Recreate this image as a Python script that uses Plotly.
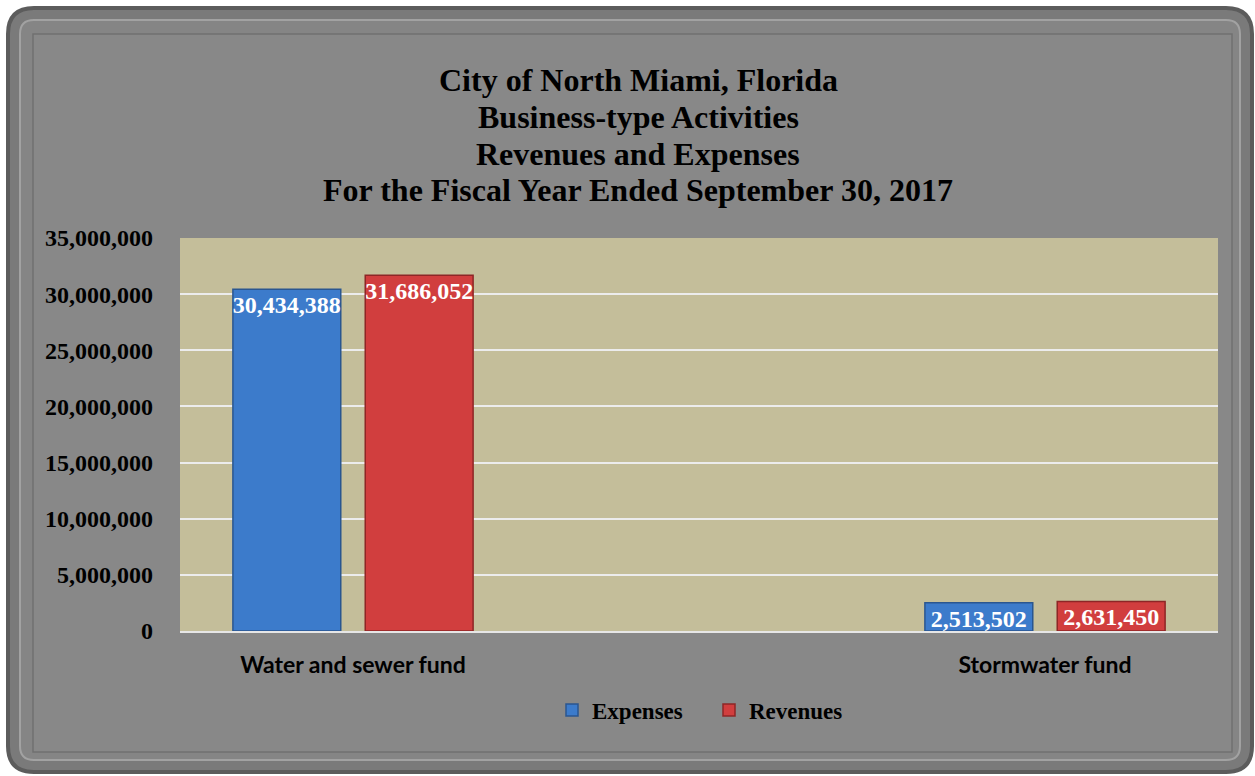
import plotly.graph_objects as go

categories = ["Water and sewer fund", " ", "Stormwater fund"]
expenses = [30434388, None, 2513502]
revenues = [31686052, None, 2631450]
expense_labels = ["30,434,388", "", "2,513,502"]
revenue_labels = ["31,686,052", "", "2,631,450"]
y_ticks = [0, 5000000, 10000000, 15000000, 20000000, 25000000, 30000000, 35000000]
y_tick_text = ["0", "5,000,000", "10,000,000", "15,000,000", "20,000,000",
               "25,000,000", "30,000,000", "35,000,000"]
title_lines = ["City of North Miami, Florida", "Business-type Activities",
               "Revenues and Expenses", "For the Fiscal Year Ended September 30, 2017"]

W, H = 1255, 776
ML, MR, MT, MB = 180, 37, 238, 145
PW, PH = W - ML - MR, H - MT - MB


def px(X):
    return (X - ML) / PW


def py(Y):
    return (H - MB - Y) / PH


def rounded_rect(x0, y0, x1, y1, r):
    def P(X, Y):
        return f"{px(X):.5f},{py(Y):.5f}"
    return (f"M {P(x0 + r, y0)} L {P(x1 - r, y0)} Q {P(x1, y0)} {P(x1, y0 + r)} "
            f"L {P(x1, y1 - r)} Q {P(x1, y1)} {P(x1 - r, y1)} "
            f"L {P(x0 + r, y1)} Q {P(x0, y1)} {P(x0, y1 - r)} "
            f"L {P(x0, y0 + r)} Q {P(x0, y0)} {P(x0 + r, y0)} Z")


serif = "Liberation Serif, Times New Roman, serif"
sans = "Lato, Open Sans, sans-serif"

fig = go.Figure()
fig.add_trace(go.Bar(
    name="Expenses", x=categories, y=expenses, text=expense_labels,
    textposition="inside", insidetextanchor="end", constraintext="none", textangle=0,
    textfont=dict(family=serif, size=24, color="white", weight="bold"),
    marker=dict(color="#3C7BCB", line=dict(color="#2A5690", width=1.5)),
))
fig.add_trace(go.Bar(
    name="Revenues", x=categories, y=revenues, text=revenue_labels,
    textposition="inside", insidetextanchor="end", constraintext="none", textangle=0,
    textfont=dict(family=serif, size=24, color="white", weight="bold"),
    marker=dict(color="#D13E3E", line=dict(color="#8E2626", width=1.5)),
))

shapes = [
    dict(type="path", xref="paper", yref="paper", layer="below",
         path=rounded_rect(8, 8, 1252, 772, 26),
         fillcolor="#7A7A7A", line=dict(color="#5C5C5C", width=4)),
    dict(type="path", xref="paper", yref="paper", layer="below",
         path=rounded_rect(20, 20, 1240, 760, 14),
         fillcolor="#858585", line=dict(color="#A2A2A2", width=2)),
    dict(type="rect", xref="paper", yref="paper", layer="below",
         x0=px(33), x1=px(1232), y0=py(34), y1=py(752),
         fillcolor="#888888", line=dict(color="#707070", width=1.5)),
    dict(type="rect", xref="paper", yref="paper", layer="below",
         x0=0, x1=1, y0=0, y1=1, fillcolor="#C4BE9A", line=dict(width=0)),
]

title_y = [80, 117, 154, 190]
annotations = [
    dict(text=f"<b>{t}</b>", xref="paper", yref="paper", x=px(638), y=py(yy),
         xanchor="center", yanchor="middle", showarrow=False,
         font=dict(family=serif, size=32, color="black"))
    for t, yy in zip(title_lines, title_y)
]

fig.update_layout(
    width=W, height=H,
    margin=dict(l=ML, r=MR, t=MT, b=MB, autoexpand=False),
    paper_bgcolor="white",
    plot_bgcolor="rgba(0,0,0,0)",
    shapes=shapes,
    annotations=annotations,
    barmode="group", bargap=0.235, bargroupgap=0.185,
    legend=dict(
        orientation="h", x=px(709), xanchor="center", y=py(710), yanchor="middle",
        font=dict(family=serif, size=23, color="black", weight="bold"),
        bgcolor="rgba(0,0,0,0)", itemwidth=30, tracegroupgap=0,
        entrywidth=112, entrywidthmode="pixels",
    ),
    showlegend=True,
    font=dict(color="black"),
)
fig.update_xaxes(
    type="category", categoryorder="array", categoryarray=categories,
    showgrid=False, showline=True, linecolor="#E6E6E6", linewidth=2,
    ticks="", ticklabelstandoff=12,
    tickfont=dict(family=sans, size=23, color="black", weight="bold"),
)
fig.update_yaxes(
    range=[0, 35000000], tickvals=y_ticks, ticktext=y_tick_text,
    showgrid=True, gridcolor="#ECECEC", gridwidth=1.5,
    zeroline=False, ticks="", ticklabelstandoff=26,
    tickfont=dict(family=serif, size=24, color="black", weight="bold"),
)

fig.write_html("out.html", config={"displayModeBar": False},
               post_script="document.body.style.margin='0';document.body.style.overflow='hidden';")
